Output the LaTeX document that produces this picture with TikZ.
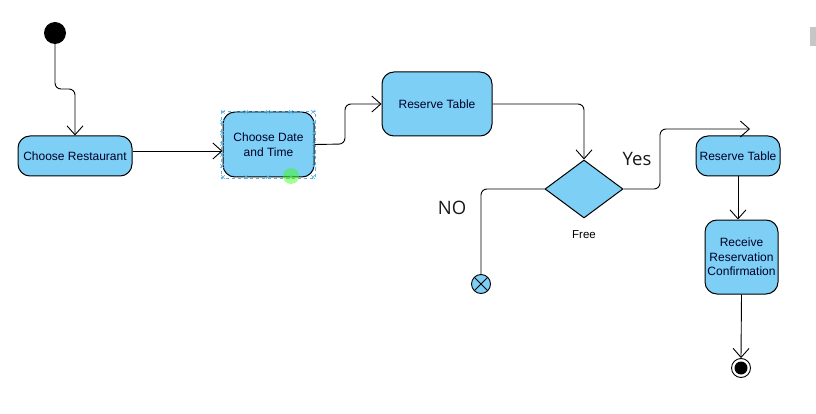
\documentclass[tikz,border=0pt]{standalone}
\usepackage{fontspec}
\setmainfont{Liberation Sans}
\newfontfamily\labfont{Open Sans}
\usetikzlibrary{arrows.meta,shapes.geometric,calc}
\definecolor{actblue}{RGB}{125,207,245}
\definecolor{selblue}{RGB}{90,180,230}
\tikzset{
  act/.style={draw=black, line width=1pt, fill=actblue, rounded corners=12pt, inner sep=2pt, align=center, font=\fontsize{12}{14.5}\selectfont, text=black!85!blue},
  arr/.style={draw=black, line width=0.9pt, -{Straight Barb[length=9pt,width=16pt,line width=0.9pt]}},
  lin/.style={draw=black, line width=0.9pt},
  big/.style={font=\labfont\fontsize{18.5}{22}\selectfont, text=black!90},
  selmark/.style={selblue, line width=0.5pt}
}
\newcommand{\xmark}[2]{\draw[selmark] (#1-2,#2-2) -- (#1+2,#2+2) (#1-2,#2+2) -- (#1+2,#2-2);}
\begin{document}
\begin{tikzpicture}[x=1pt,y=-1pt]
\useasboundingbox (0,0) rectangle (816,414);
\fill[white] (0,0) rectangle (816,414);
\fill[gray!45] (810,27) rectangle (816,46);

% start
\node[circle, fill=black, minimum size=22pt, inner sep=0] (start) at (55,33) {};

% activities
\node[act, minimum width=114pt, minimum height=40pt] (cr) at (75,156) {Choose Restaurant};
\node[act, minimum width=91pt, minimum height=65pt] (cd) at (268.5,144.5) {Choose Date\\and Time};
\node[act, minimum width=110pt, minimum height=64pt] (rt1) at (437,104) {Reserve Table};
\node[diamond, draw=black, line width=1pt, fill=actblue, minimum width=78pt, minimum height=58pt, shape aspect=1.34, inner sep=0] (dia) at (584,189) {};
\node[font=\fontsize{11.5}{13}\selectfont] (free) at (584,235) {Free};
\node[act, minimum width=84pt, minimum height=40pt] (rt2) at (738,156) {Reserve Table};
\node[act, minimum width=73pt, minimum height=74pt] (rc) at (741.5,257) {Receive\\Reservation\\Confirmation};

% flow final
\node[circle, draw=black, line width=0.9pt, fill=actblue, minimum size=19pt, inner sep=0] (ff) at (481,284) {};
\draw[line width=0.9pt] ($(ff.center)+(-6.5,-6.5)$) -- ($(ff.center)+(6.5,6.5)$) ($(ff.center)+(-6.5,6.5)$) -- ($(ff.center)+(6.5,-6.5)$);

% activity final
\node[circle, draw=black, line width=0.9pt, fill=white, minimum size=19pt, inner sep=0] (fin) at (741,368) {};
\fill[black] (fin.center) circle (6.5pt);

% selection handles around Choose Date and Time
\draw[selmark, dashed] (221,111) rectangle (315,178);
\foreach \x in {223,246,268,291,313} {\xmark{\x}{112}\xmark{\x}{177}}
\foreach \y in {122,133,144,155,166} {\xmark{222}{\y}\xmark{314}{\y}}
\fill[green!70!lime, opacity=0.45] (291,176) circle (8pt);

% connectors
\coordinate (k1) at (75,89);
\draw[arr, rounded corners=6pt] (start.south) |- (k1) -- (cr.north);
\draw[arr] ($(cr.east)+(0,-5)$) -- ($(cd.west)+(0,6.5)$);
\coordinate (k2) at (345,144);
\draw[arr, rounded corners=6pt] (cd.east) -- (k2) |- (rt1.west);
\draw[arr, rounded corners=6pt] (rt1.east) -| (dia.north);
\coordinate (k3) at (660,189);
\coordinate (yesend) at (750,129);
\draw[arr, rounded corners=6pt] (dia.east) -- (k3) |- (yesend);
\draw[lin, rounded corners=6pt] (dia.west) -| (ff.north);
\draw[arr] (rt2.south) -- (rt2.south |- rc.north);
\draw[arr] (rc.south) -- (fin.north);

% labels
\node[big] (yes) at (637,159) {Yes};
\node[big] (no) at (452,208) {NO};
\end{tikzpicture}
\end{document}
